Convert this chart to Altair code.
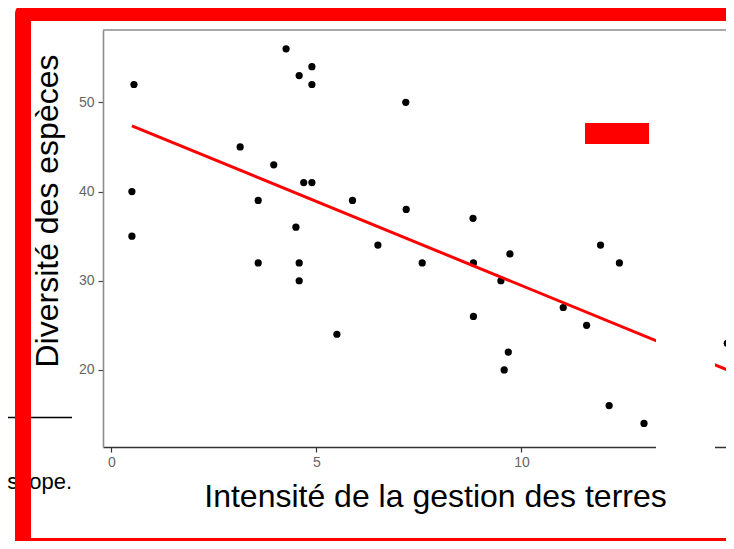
import altair as alt
import pandas as pd

# ---- data ----
intensite = [0.55, 0.5, 0.5, 3.14, 3.58, 3.58, 3.96, 4.26, 4.50, 4.58,
             4.58, 4.58, 4.69, 4.89, 4.89, 4.89, 5.50, 5.88, 6.50, 7.18,
             7.19, 7.58, 8.82, 8.83, 8.83, 9.50, 9.58, 9.68, 9.72, 11.02,
             11.59, 11.93, 12.14, 12.39, 12.99, 15.02]
diversite = [52, 40, 35, 45, 39, 32, 43, 56, 36, 53,
             32, 30, 41, 54, 52, 41, 24, 39, 34, 50,
             38, 32, 37, 32, 26, 30, 20, 22, 33, 27,
             25, 34, 16, 32, 14, 23]
x_ticks = [0, 5, 10, 15]
y_ticks = [20, 30, 40, 50]
x_title = "Intensité de la gestion des terres"
y_title = "Diversité des espèces"
side_text = "microscope."

FONT = "Liberation Sans"
RED = "#ff0000"

df = pd.DataFrame({"x": intensite, "y": diversite})
xs = alt.Scale(domain=[-0.205, 14.99], nice=False, zero=False)
ys = alt.Scale(domain=[11.36, 58.11], nice=False, zero=False)

base = alt.Chart(df)

points = base.mark_circle(size=52, color="black", opacity=1).encode(
    x=alt.X("x:Q", scale=xs,
            axis=alt.Axis(values=x_ticks, title=None, grid=False,
                          domainColor="#333333", domainWidth=1.6,
                          tickColor="#333333", tickSize=5, tickWidth=1.2,
                          labelFontSize=14, labelColor="#666666", labelFont=FONT,
                          labelPadding=3, labelFlush=False)),
    y=alt.Y("y:Q", scale=ys,
            axis=alt.Axis(values=y_ticks, title=None, grid=False,
                          domainColor="#8c8c8c", domainWidth=1.6,
                          tickColor="#444444", tickSize=5, tickWidth=1.2,
                          labelFontSize=14, labelColor="#666666", labelFont=FONT,
                          labelPadding=4)),
)

fit = base.transform_regression("x", "y").mark_line(color=RED, strokeWidth=3).encode(
    x=alt.X("x:Q", scale=xs),
    y=alt.Y("y:Q", scale=ys),
)

one = alt.Data(values=[{"k": 1}])

white_gap = alt.Chart(one).mark_rect(color="white").encode(
    x=alt.value(553), x2=alt.value(612), y=alt.value(2), y2=alt.value(440))
label_mask = alt.Chart(one).mark_rect(color="white").encode(
    x=alt.value(-72), x2=alt.value(-25.5), y=alt.value(-5), y2=alt.value(430))
red_box = alt.Chart(one).mark_rect(color=RED).encode(
    x=alt.value(482), x2=alt.value(546), y=alt.value(93), y2=alt.value(114))
top_line = alt.Chart(one).mark_rule(color="#8c8c8c", strokeWidth=1.6).encode(
    x=alt.value(0), x2=alt.value(640), y=alt.value(0))
y_title_mark = alt.Chart(one).mark_text(
    angle=270, align="center", baseline="alphabetic", fontSize=32, font=FONT,
    color="black").encode(x=alt.value(-45), y=alt.value(181), text=alt.value(y_title))
x_title_mark = alt.Chart(one).mark_text(
    align="center", baseline="alphabetic", fontSize=32, font=FONT,
    color="black").encode(x=alt.value(332.5), y=alt.value(477), text=alt.value(x_title))
left_line = alt.Chart(one).mark_rule(color="black", strokeWidth=1.7).encode(
    x=alt.value(-103), x2=alt.value(-31), y=alt.value(387.5))
side = alt.Chart(one).mark_text(
    align="right", baseline="alphabetic", fontSize=22, font=FONT,
    color="black").encode(x=alt.value(-31), y=alt.value(459), text=alt.value(side_text))
frame = alt.Chart(one).mark_rect(
    fillOpacity=0, stroke=RED, strokeWidth=16, strokeJoin="round").encode(
    x=alt.value(-80), x2=alt.value(700), y=alt.value(-17), y2=alt.value(516))

chart = alt.layer(
    points, fit, white_gap, label_mask, red_box, top_line,
    y_title_mark, x_title_mark, left_line, side, frame
).properties(
    width=623, height=417,
    padding={"left": 95, "top": 22, "right": 0, "bottom": 94},
    autosize=alt.AutoSizeParams(type="none"),
    background="white",
).configure_view(stroke=None)

chart.save("out.html", embed_options={"renderer": "svg", "actions": False})
